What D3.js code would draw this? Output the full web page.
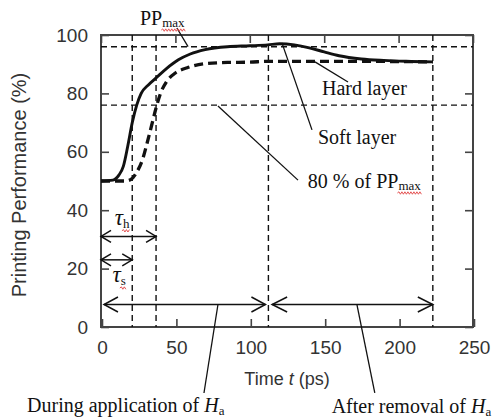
<!DOCTYPE html>
<html>
<head>
<meta charset="utf-8">
<script src="https://cdn.jsdelivr.net/npm/d3@7"></script>
<style>
body { margin: 0; background: #fff; }
.tick text { font-family: "Liberation Sans", Arial, sans-serif; font-size: 19px; fill: #333; }
.serif { font-family: "Liberation Serif", "Times New Roman", serif; fill: #111; }
</style>
</head>
<body>
<svg id="chart" width="493" height="420"></svg>
<script>
// soft layer (solid) and hard layer (dashed), time in ps, PP in %
var timeSoft = [0, 8, 12, 15, 18, 21, 24, 27, 32, 37, 44, 52, 60, 70, 85, 100, 112, 120, 130, 140, 150, 160, 175, 190, 205, 223];
var ppSoft = [50, 50.3, 52, 55, 62, 70, 76, 80, 83, 85.3, 88.5, 91.5, 93.5, 95, 96, 96.3, 96.6, 97, 96.6, 95.6, 94.2, 92.9, 91.8, 91.3, 91, 90.8];
var timeHard = [0, 16, 20, 24, 28, 31, 34, 37, 40, 44, 50, 58, 70, 85, 100, 112, 140, 170, 200, 223];
var ppHard = [50, 50, 50.5, 53, 57.5, 63, 69, 75, 80, 84, 87, 88.8, 90.2, 90.6, 90.7, 91, 91, 91, 90.9, 90.8];

var xTicks = [0, 50, 100, 150, 200, 250];
var yTicks = [0, 20, 40, 60, 80, 100];

var ppMax = 96, pp80 = 76;
var tauS = 21, tauH = 37, tOff = 112.5, tEnd = 223;

var svg = d3.select("#chart");
var margin = {left: 101, top: 35, right: 20, bottom: 93};
var W = 493, H = 420;

var x = d3.scaleLinear().domain([0, 250]).range([margin.left, W - margin.right]);
var y = d3.scaleLinear().domain([0, 100]).range([H - margin.bottom, margin.top]);

// axes (ticks point inward, on all four sides)
function styleAxis(g) {
    g.select(".domain").remove();
    g.selectAll(".tick line").attr("stroke", "#444").attr("stroke-width", 1.6);
    g.attr("font-family", null).attr("font-size", null);
}
svg.append("g").attr("transform", "translate(1," + y(0) + ")")
    .call(d3.axisBottom(x).tickValues(xTicks).tickSizeInner(-8).tickSizeOuter(0).tickPadding(14))
    .call(styleAxis);
svg.append("g").attr("transform", "translate(0," + y(100) + ")")
    .call(d3.axisTop(x).tickValues(xTicks).tickSizeInner(-8).tickSizeOuter(0).tickFormat(""))
    .call(styleAxis);
svg.append("g").attr("transform", "translate(" + x(0) + ",0)")
    .call(d3.axisLeft(y).tickValues(yTicks).tickSizeInner(-8).tickSizeOuter(0).tickPadding(13))
    .call(styleAxis);
svg.append("g").attr("transform", "translate(" + x(250) + ",0)")
    .call(d3.axisRight(y).tickValues(yTicks).tickSizeInner(-8).tickSizeOuter(0).tickFormat(""))
    .call(styleAxis);

svg.append("rect")
    .attr("x", x(0)).attr("y", y(100))
    .attr("width", x(250) - x(0)).attr("height", y(0) - y(100))
    .attr("fill", "none").attr("stroke", "#444").attr("stroke-width", 2);

// axis titles
svg.append("text")
    .attr("transform", "translate(26," + ((y(0) + y(100)) / 2 + 4) + ") rotate(-90)")
    .attr("text-anchor", "middle")
    .style("font-family", "'Liberation Sans', Arial, sans-serif")
    .style("font-size", "20px").style("fill", "#333")
    .text("Printing Performance (%)");

var xt = svg.append("text")
    .attr("x", (x(0) + x(250)) / 2).attr("y", 385)
    .attr("text-anchor", "middle")
    .style("font-family", "'Liberation Sans', Arial, sans-serif")
    .style("font-size", "18px").style("fill", "#333");
xt.append("tspan").text("Time ");
xt.append("tspan").style("font-style", "italic").text("t");
xt.append("tspan").text(" (ps)");

// reference dashed lines
var refDash = "6,4";
[ppMax, pp80].forEach(function (v) {
    svg.append("line")
        .attr("x1", x(0)).attr("x2", x(250)).attr("y1", y(v)).attr("y2", y(v))
        .attr("stroke", "#111").attr("stroke-width", 1.4).attr("stroke-dasharray", refDash);
});
[tauS, tauH, tOff, tEnd].forEach(function (t) {
    svg.append("line")
        .attr("x1", x(t)).attr("x2", x(t)).attr("y1", y(100)).attr("y2", y(0))
        .attr("stroke", "#111").attr("stroke-width", 1.4).attr("stroke-dasharray", refDash);
});

// curves
var line = d3.line()
    .x(function (d) { return x(d[0]); })
    .y(function (d) { return y(d[1]); })
    .curve(d3.curveMonotoneX);

svg.append("path")
    .datum(d3.zip(timeHard, ppHard))
    .attr("d", line)
    .attr("fill", "none").attr("stroke", "#111").attr("stroke-width", 3.3)
    .attr("stroke-dasharray", "9,5");

svg.append("path")
    .datum(d3.zip(timeSoft, ppSoft))
    .attr("d", line)
    .attr("fill", "none").attr("stroke", "#111").attr("stroke-width", 2.9);

// double arrows
function arrow(t0, t1, v, len, half) {
    var x0 = x(t0), x1 = x(t1), yy = y(v);
    var g = svg.append("g").attr("fill", "none").attr("stroke", "#111").attr("stroke-width", 1.5);
    g.append("line").attr("x1", x0).attr("x2", x1).attr("y1", yy).attr("y2", yy);
    g.append("path").attr("d", "M" + (x0 + len) + "," + (yy - half) + "L" + x0 + "," + yy + "L" + (x0 + len) + "," + (yy + half));
    g.append("path").attr("d", "M" + (x1 - len) + "," + (yy - half) + "L" + x1 + "," + yy + "L" + (x1 - len) + "," + (yy + half));
}
arrow(0, tauH, 31, 10, 6);
arrow(0, tauS, 23, 10, 6);
arrow(2, 110.5, 7.7, 14, 7.5);
arrow(115, tEnd, 7.7, 15, 7.5);

// leader lines
var leaders = [
    [51, 102.4, 58.5, 96],
    [143.8, 90.8, 166, 83.9],
    [121.6, 97.3, 141.8, 67.5],
    [78.6, 75.7, 132.4, 50.3],
    [78.6, 7.7, 69.2, -22.6],
    [172, 7.7, 184, -22.6]
];
leaders.forEach(function (l) {
    svg.append("line")
        .attr("x1", x(l[0])).attr("y1", y(l[1])).attr("x2", x(l[2])).attr("y2", y(l[3]))
        .attr("stroke", "#111").attr("stroke-width", 1.3);
});

// red spell-check squiggle
function wavy(xa, xb, yy) {
    var p = "M" + xa + "," + yy, up = true;
    for (var xx = xa + 1.5; xx <= xb; xx += 1.5) {
        p += "L" + xx + "," + (yy + (up ? -1.2 : 1.2));
        up = !up;
    }
    svg.append("path").attr("d", p).attr("fill", "none").attr("stroke", "#e04040").attr("stroke-width", 0.9);
}

function label(t, v, parts, size) {
    var tx = svg.append("text").attr("class", "serif")
        .attr("x", x(t)).attr("y", y(v)).style("font-size", (size || 20) + "px");
    parts.forEach(function (p) {
        var s = tx.append("tspan").text(p.s);
        if (p.it) s.style("font-style", "italic");
        if (p.sub) s.style("font-size", "13px").attr("dy", p.sub);
    });
    return tx;
}

var t1 = label(26.2, 103.4, [{s: "PP"}, {s: "max", sub: 2}]);
label(148.5, 79.5, [{s: "Hard layer"}]);
label(145.8, 62.7, [{s: "Soft layer"}]);
var t2 = label(139, 47.6, [{s: "80 % of PP"}, {s: "max", sub: 2}]);
label(-49.7, -29.1, [{s: "During application of "}, {s: "H", it: true}, {s: "a", sub: 3}]);
label(155, -29.5, [{s: "After removal of "}, {s: "H", it: true}, {s: "a", sub: 3}]);
var t3 = label(9.2, 35, [{s: "\u03c4", it: true}, {s: "h", sub: 3}], 23);
var t4 = label(7.8, 15.4, [{s: "\u03c4", it: true}, {s: "s", sub: 3}], 23);

[t1, t2, t3, t4].forEach(function (tx) {
    var sub = tx.selectAll("tspan").nodes();
    var last = sub[sub.length - 1];
    var n = last.getNumberOfChars();
    var a = last.getStartPositionOfChar(0), b = last.getEndPositionOfChar(n - 1);
    wavy(a.x - 1, b.x + 1, a.y + 3);
});
</script>
</body>
</html>
